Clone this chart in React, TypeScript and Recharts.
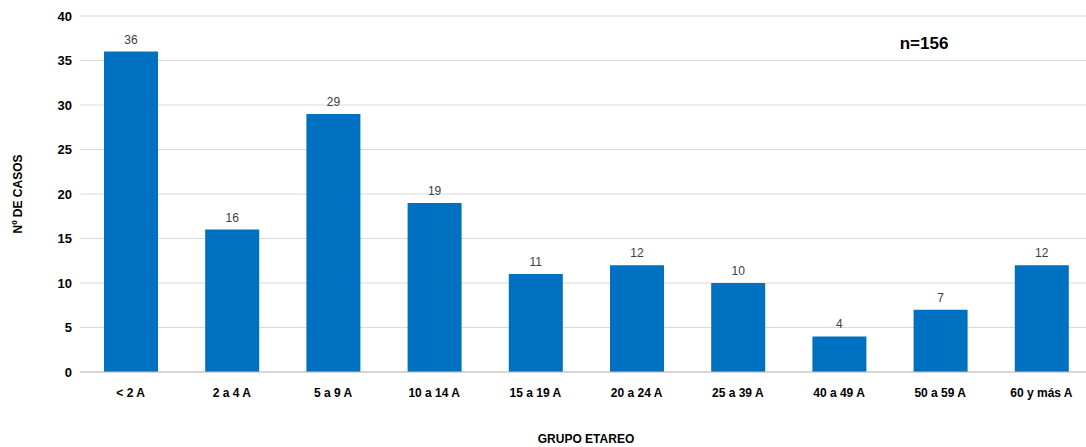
import React from "react";
import { BarChart, Bar, XAxis, YAxis, CartesianGrid, LabelList, Label } from "recharts";

const categories = ["< 2 A", "2 a 4 A", "5 a 9 A", "10 a 14 A", "15 a 19 A", "20 a 24 A", "25 a 39 A", "40 a 49 A", "50 a 59 A", "60 y más A"];
const casos = [36, 16, 29, 19, 11, 12, 10, 4, 7, 12];
const yTicks = [0, 5, 10, 15, 20, 25, 30, 35, 40];

const data = categories.map((c, i) => ({ grupo: c, casos: casos[i] }));
const font = "'Liberation Sans', Arial, sans-serif";

export default function App() {
  return (
    <div style={{ position: "absolute", left: 0, top: 0, width: 1086, height: 447, overflow: "hidden", background: "#fff" }}>
      <BarChart width={1100} height={447} data={data} margin={{ top: 16, right: 8, bottom: 45, left: 20 }} barSize={54}>
        <CartesianGrid vertical={false} stroke="#d9d9d9" />
        <XAxis dataKey="grupo" tickLine={false} axisLine={{ stroke: "#bfbfbf" }} interval={0}
          tick={{ fontFamily: font, fontSize: 12, fontWeight: "bold", fill: "#000" }} tickMargin={10}>
          <Label value="GRUPO ETAREO" position="insideBottom" offset={-41} style={{ fontFamily: font, fontSize: 12, fontWeight: "bold", fill: "#000" }} />
        </XAxis>
        <YAxis width={60} domain={[0, 40]} ticks={yTicks} tickLine={false} axisLine={false}
          tick={{ fontFamily: font, fontSize: 13, fontWeight: "bold", fill: "#000" }}>
          <Label value="Nº DE CASOS" angle={-90} position="insideLeft" offset={0} dx={-2} style={{ fontFamily: font, fontSize: 12, fontWeight: "bold", fill: "#000", textAnchor: "middle" }} />
        </YAxis>
        <Bar dataKey="casos" fill="#0070C0" isAnimationActive={false}>
          <LabelList dataKey="casos" position="top" offset={8} fill="#404040" style={{ fontFamily: font, fontSize: 12, fill: "#404040" }} />
        </Bar>
        <text x={924} y={49} textAnchor="middle" style={{ fontFamily: font, fontSize: 17, fontWeight: "bold", fill: "#000" }}>n=156</text>
      </BarChart>
    </div>
  );
}
